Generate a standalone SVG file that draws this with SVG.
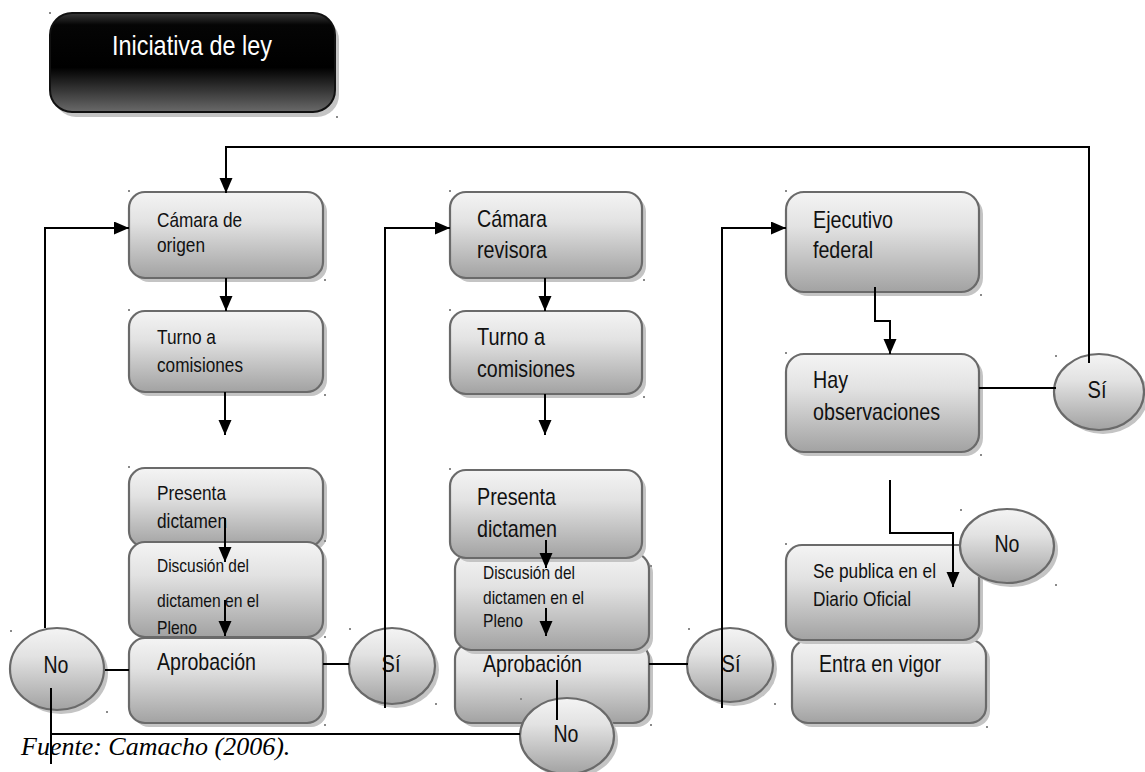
<svg xmlns="http://www.w3.org/2000/svg" width="1145" height="772" viewBox="0 0 1145 772">
<defs>
<linearGradient id="g" x1="0" y1="0" x2="0" y2="1">
<stop offset="0" stop-color="#f4f4f4"/>
<stop offset="0.35" stop-color="#e2e2e2"/>
<stop offset="1" stop-color="#a2a2a2"/>
</linearGradient>
<linearGradient id="gb" x1="0" y1="0" x2="0" y2="1">
<stop offset="0" stop-color="#3a3a3a"/>
<stop offset="0.12" stop-color="#050505"/>
<stop offset="0.55" stop-color="#000000"/>
<stop offset="1" stop-color="#6a6a6a"/>
</linearGradient>
<marker id="ah" markerUnits="userSpaceOnUse" markerWidth="16" markerHeight="14" refX="15" refY="6.5" orient="auto">
<path d="M0,0 L15,6.5 L0,13 z" fill="#000"/>
</marker>
<style>
.box{fill:url(#g);stroke:#6a6a6a;stroke-width:2.2}
.sh{fill:#c4c4c4}
.t{font-family:"Liberation Sans Narrow","Liberation Sans",Arial,sans-serif;fill:#111}
.s19{font-size:19px}.s21{font-size:21px}.s24{font-size:24px}
.c{fill:none;stroke:#000;stroke-width:2}
.a{marker-end:url(#ah)}
.h{fill:#8a8a8a}
</style>
</defs>
<rect width="1145" height="772" fill="#fff"/>

<g id="iniciativa">
<rect class="sh" x="54" y="18" width="285" height="99" rx="22"/>
<rect x="50" y="13" width="285" height="99" rx="22" fill="url(#gb)" stroke="#111" stroke-width="2"/>
<text class="t" x="192" y="55" font-size="28" style="fill:#fff" text-anchor="middle" textLength="160" lengthAdjust="spacingAndGlyphs">Iniciativa de ley</text>
</g>

<g id="camara-origen">
<rect class="sh" x="133" y="196" width="194" height="86" rx="16"/>
<rect class="box" x="129" y="192" width="194" height="86" rx="16"/>
<text class="t s21" x="157" y="227" textLength="85" lengthAdjust="spacingAndGlyphs">Cámara de</text>
<text class="t s21" x="157" y="252" textLength="48" lengthAdjust="spacingAndGlyphs">origen</text>
</g>

<g id="turno-1">
<rect class="sh" x="133" y="315" width="194" height="81" rx="16"/>
<rect class="box" x="129" y="311" width="194" height="81" rx="16"/>
<text class="t s21" x="157" y="344" textLength="59" lengthAdjust="spacingAndGlyphs">Turno a</text>
<text class="t s21" x="157" y="372" textLength="86" lengthAdjust="spacingAndGlyphs">comisiones</text>
</g>

<g id="presenta-1">
<rect class="sh" x="133" y="472" width="194" height="79" rx="16"/>
<rect class="box" x="129" y="468" width="194" height="79" rx="16"/>
<text class="t s21" x="157" y="500" textLength="69" lengthAdjust="spacingAndGlyphs">Presenta</text>
<text class="t s21" x="157" y="528" textLength="70" lengthAdjust="spacingAndGlyphs">dictamen</text>
</g>

<g id="discusion-1">
<rect class="sh" x="133" y="546" width="194" height="95" rx="16"/>
<rect class="box" x="129" y="542" width="194" height="95" rx="16"/>
<text class="t s19" x="157" y="572" textLength="92" lengthAdjust="spacingAndGlyphs">Discusión del</text>
<text class="t s19" x="157" y="607" textLength="102" lengthAdjust="spacingAndGlyphs">dictamen en el</text>
<text class="t s19" x="157" y="634" textLength="40" lengthAdjust="spacingAndGlyphs">Pleno</text>
</g>

<g id="aprobacion-1">
<rect class="sh" x="133" y="642" width="194" height="85" rx="16"/>
<rect class="box" x="129" y="638" width="194" height="85" rx="16"/>
<text class="t s24" x="157" y="670" textLength="99" lengthAdjust="spacingAndGlyphs">Aprobación</text>
</g>

<g id="no-1">
<ellipse class="sh" cx="61" cy="673" rx="47" ry="41"/>
<ellipse class="box" cx="57" cy="669" rx="47" ry="41"/>
<text class="t s24" x="56" y="673" text-anchor="middle" textLength="25" lengthAdjust="spacingAndGlyphs">No</text>
</g>

<g id="si-1">
<ellipse class="sh" cx="396" cy="670" rx="43" ry="38"/>
<ellipse class="box" cx="392" cy="666" rx="43" ry="38"/>
<text class="t s24" x="391" y="672" text-anchor="middle" textLength="19" lengthAdjust="spacingAndGlyphs">Sí</text>
</g>

<g id="camara-revisora">
<rect class="sh" x="454" y="196" width="192" height="86" rx="16"/>
<rect class="box" x="450" y="192" width="192" height="86" rx="16"/>
<text class="t s24" x="477" y="227" textLength="70" lengthAdjust="spacingAndGlyphs">Cámara</text>
<text class="t s24" x="477" y="258" textLength="70" lengthAdjust="spacingAndGlyphs">revisora</text>
</g>

<g id="turno-2">
<rect class="sh" x="454" y="315" width="192" height="83" rx="16"/>
<rect class="box" x="450" y="311" width="192" height="83" rx="16"/>
<text class="t s24" x="477" y="345" textLength="68" lengthAdjust="spacingAndGlyphs">Turno a</text>
<text class="t s24" x="477" y="377" textLength="98" lengthAdjust="spacingAndGlyphs">comisiones</text>
</g>

<g id="aprobacion-2">
<rect class="sh" x="459" y="647" width="194" height="80" rx="16"/>
<rect class="box" x="455" y="643" width="194" height="80" rx="16"/>
<text class="t s24" x="483" y="672" textLength="99" lengthAdjust="spacingAndGlyphs">Aprobación</text>
</g>

<g id="discusion-2">
<rect class="sh" x="459" y="557" width="194" height="97" rx="16"/>
<rect class="box" x="455" y="553" width="194" height="97" rx="16"/>
<text class="t s19" x="483" y="579" textLength="92" lengthAdjust="spacingAndGlyphs">Discusión del</text>
<text class="t s19" x="483" y="604" textLength="101" lengthAdjust="spacingAndGlyphs">dictamen en el</text>
<text class="t s19" x="483" y="627" textLength="40" lengthAdjust="spacingAndGlyphs">Pleno</text>
</g>

<g id="presenta-2">
<rect class="sh" x="454" y="474" width="192" height="88" rx="16"/>
<rect class="box" x="450" y="470" width="192" height="88" rx="16"/>
<text class="t s24" x="477" y="505" textLength="79" lengthAdjust="spacingAndGlyphs">Presenta</text>
<text class="t s24" x="477" y="537" textLength="80" lengthAdjust="spacingAndGlyphs">dictamen</text>
</g>

<g id="no-2">
<ellipse class="sh" cx="571" cy="740" rx="47" ry="38"/>
<ellipse class="box" cx="567" cy="736" rx="47" ry="38"/>
<text class="t s24" x="566" y="742" text-anchor="middle" textLength="25" lengthAdjust="spacingAndGlyphs">No</text>
</g>

<g id="si-2">
<ellipse class="sh" cx="734" cy="669" rx="43" ry="37"/>
<ellipse class="box" cx="730" cy="665" rx="43" ry="37"/>
<text class="t s24" x="731" y="672" text-anchor="middle" textLength="19" lengthAdjust="spacingAndGlyphs">Sí</text>
</g>

<g id="ejecutivo">
<rect class="sh" x="790" y="196" width="193" height="100" rx="18"/>
<rect class="box" x="786" y="192" width="193" height="100" rx="18"/>
<text class="t s24" x="813" y="228" textLength="80" lengthAdjust="spacingAndGlyphs">Ejecutivo</text>
<text class="t s24" x="813" y="258" textLength="60" lengthAdjust="spacingAndGlyphs">federal</text>
</g>

<g id="observaciones">
<rect class="sh" x="790" y="358" width="193" height="98" rx="18"/>
<rect class="box" x="786" y="354" width="193" height="98" rx="18"/>
<text class="t s24" x="813" y="388" textLength="35" lengthAdjust="spacingAndGlyphs">Hay</text>
<text class="t s24" x="813" y="420" textLength="127" lengthAdjust="spacingAndGlyphs">observaciones</text>
</g>

<g id="si-3">
<ellipse class="sh" cx="1103" cy="396" rx="45" ry="38"/>
<ellipse class="box" cx="1099" cy="392" rx="45" ry="38"/>
<text class="t s24" x="1097" y="398" text-anchor="middle" textLength="19" lengthAdjust="spacingAndGlyphs">Sí</text>
</g>

<g id="vigor">
<rect class="sh" x="796" y="644" width="194" height="83" rx="16"/>
<rect class="box" x="792" y="640" width="194" height="83" rx="16"/>
<text class="t s24" x="819" y="672" textLength="122" lengthAdjust="spacingAndGlyphs">Entra en vigor</text>
</g>

<g id="publica">
<rect class="sh" x="790" y="549" width="193" height="95" rx="16"/>
<rect class="box" x="786" y="545" width="193" height="95" rx="16"/>
<text class="t s21" x="813" y="578" textLength="123" lengthAdjust="spacingAndGlyphs">Se publica en el</text>
<text class="t s21" x="813" y="606" textLength="98" lengthAdjust="spacingAndGlyphs">Diario Oficial</text>
</g>

<g id="no-3">
<ellipse class="sh" cx="1011" cy="550" rx="47" ry="37"/>
<ellipse class="box" cx="1007" cy="546" rx="47" ry="37"/>
<text class="t s24" x="1007" y="552" text-anchor="middle" textLength="25" lengthAdjust="spacingAndGlyphs">No</text>
</g>

<g id="handles">
<rect class="h" x="49" y="12" width="2" height="2"/><rect class="h" x="336" y="116" width="2" height="2"/>
<rect class="h" x="128" y="190" width="2" height="2"/><rect class="h" x="324" y="279" width="2" height="2"/>
<rect class="h" x="128" y="309" width="2" height="2"/><rect class="h" x="324" y="394" width="2" height="2"/>
<rect class="h" x="128" y="466" width="2" height="2"/><rect class="h" x="324" y="540" width="2" height="2"/>
<rect class="h" x="324" y="636" width="2" height="2"/><rect class="h" x="324" y="724" width="2" height="2"/>
<rect class="h" x="10" y="630" width="2" height="2"/><rect class="h" x="106" y="711" width="2" height="2"/>
<rect class="h" x="349" y="628" width="2" height="2"/><rect class="h" x="435" y="703" width="2" height="2"/>
<rect class="h" x="449" y="190" width="2" height="2"/><rect class="h" x="643" y="279" width="2" height="2"/>
<rect class="h" x="449" y="309" width="2" height="2"/><rect class="h" x="643" y="396" width="2" height="2"/>
<rect class="h" x="449" y="468" width="2" height="2"/><rect class="h" x="650" y="565" width="2" height="2"/>
<rect class="h" x="650" y="724" width="2" height="2"/><rect class="h" x="520" y="698" width="2" height="2"/>
<rect class="h" x="688" y="628" width="2" height="2"/><rect class="h" x="774" y="703" width="2" height="2"/>
<rect class="h" x="785" y="190" width="2" height="2"/><rect class="h" x="980" y="294" width="2" height="2"/>
<rect class="h" x="785" y="352" width="2" height="2"/><rect class="h" x="980" y="454" width="2" height="2"/>
<rect class="h" x="1055" y="355" width="2" height="2"/>
<rect class="h" x="785" y="543" width="2" height="2"/><rect class="h" x="986" y="726" width="2" height="2"/>
<rect class="h" x="960" y="509" width="2" height="2"/><rect class="h" x="1055" y="584" width="2" height="2"/>
</g>

<g id="connectors">
<path class="c a" d="M1089,363 V147 H226 V193"/>
<path class="c a" d="M226,278 V311"/>
<path class="c a" d="M225,392 V435"/>
<path class="c a" d="M225,518 V562"/>
<path class="c a" d="M225,600 V636"/>
<path class="c a" d="M45,628 V228 H129"/>
<path class="c" d="M105,670 H129"/>
<path class="c" d="M51,688 V764"/>
<path class="c" d="M51,734 H520"/>
<path class="c" d="M323,664 H349"/>
<path class="c a" d="M385,708 V228 H450"/>
<path class="c a" d="M545,278 V311"/>
<path class="c a" d="M545,394 V435"/>
<path class="c a" d="M546,540 V568"/>
<path class="c a" d="M546,608 V636"/>
<path class="c" d="M557,680 V720"/>
<path class="c" d="M649,664 H688"/>
<path class="c a" d="M722,708 V228 H786"/>
<path class="c a" d="M875,287 V321 H890 V354"/>
<path class="c" d="M979,388 H1056"/>
<path class="c a" d="M890,480 V533 H953 V587"/>
</g>

<text x="21" y="755" font-family="Liberation Serif, 'Times New Roman', serif" font-style="italic" font-size="26" fill="#000">Fuente: Camacho (2006).</text>
</svg>
